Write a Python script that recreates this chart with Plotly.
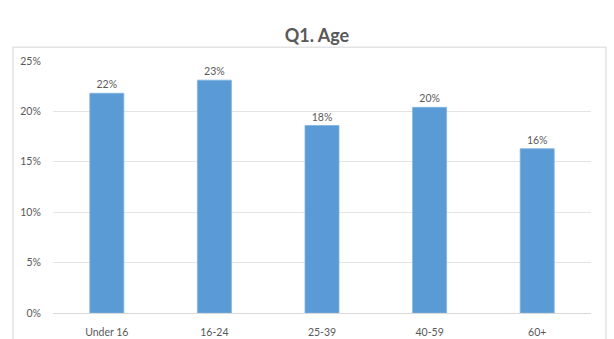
import plotly.graph_objects as go

categories = ["Under 16", "16-24", "25-39", "40-59", "60+"]
values = [21.8, 23.1, 18.6, 20.4, 16.3]
labels = ["22%", "23%", "18%", "20%", "16%"]
y_ticks = [0, 5, 10, 15, 20, 25]
y_tick_labels = ["0%", "5%", "10%", "15%", "20%", "25%"]

W, H = 614, 339
L, R, T, B = 53, 23, 60.5, 25.7
pw, ph = W - L - R, H - T - B

FONT = "Lato, Calibri, 'Noto Sans', sans-serif"
TXT = "#595959"

fig = go.Figure(go.Bar(
    x=categories, y=values, text=labels,
    textposition="outside", cliponaxis=False,
    textfont=dict(size=10.5, color=TXT, family=FONT),
    marker=dict(color="#5B9BD5", line=dict(color="#7FB2E0", width=0.8)),
))

fig.update_layout(
    width=W, height=H,
    margin=dict(l=L, r=R, t=T, b=B, autoexpand=False),
    paper_bgcolor="white", plot_bgcolor="white",
    bargap=0.684,
    showlegend=False,
    title=dict(text="<b>Q1. Age</b>", x=(317) / W, xanchor="center",
               y=1 - 36 / H, yanchor="middle",
               font=dict(size=18, color=TXT, family=FONT)),
    xaxis=dict(showgrid=False, showline=True, linecolor="#D9D9D9", linewidth=1,
               automargin=False,
               ticks="outside", ticklen=9, tickcolor="rgba(0,0,0,0)",
               tickfont=dict(size=10.5, color=TXT, family=FONT)),
    yaxis=dict(range=[0, 25], tickvals=y_ticks, ticktext=y_tick_labels,
               automargin=False,
               showgrid=True, gridcolor="#E4E4E4", gridwidth=1,
               zeroline=False, showline=False,
               ticks="outside", ticklen=9, tickcolor="rgba(0,0,0,0)",
               tickfont=dict(size=10.5, color=TXT, family=FONT)),
    shapes=[dict(type="rect", xref="paper", yref="paper",
                 x0=(13 - L) / pw, x1=(606 - L) / pw,
                 y0=(H - T - 345) / ph, y1=(H - T - 12) / ph,
                 line=dict(color="#E3E3E3", width=1.5), fillcolor="rgba(0,0,0,0)",
                 layer="below")],
)

fig.write_html("out.html")
